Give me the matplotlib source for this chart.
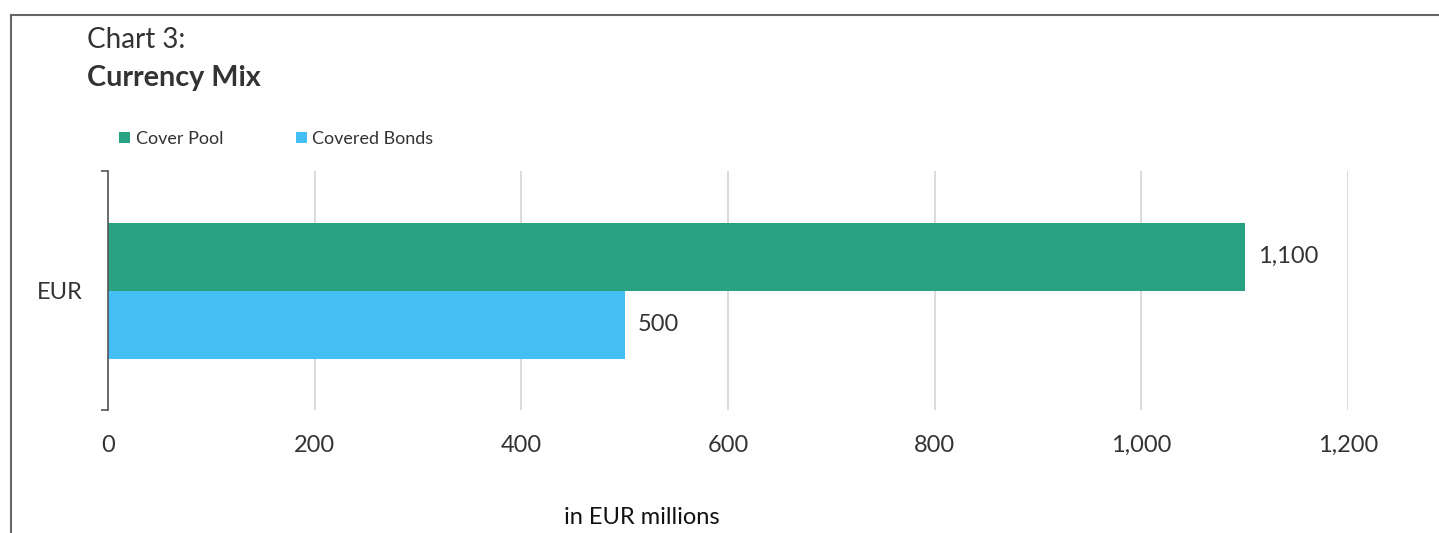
import numpy as np
import matplotlib.pyplot as plt
from matplotlib.lines import Line2D

# data
categories = ["EUR"]
series_names = ["Cover Pool", "Covered Bonds"]
cover_pool = [1100]
covered_bonds = [500]
x_ticks = [0, 200, 400, 600, 800, 1000, 1200]

GREEN = "#28A282"
BLUE = "#45BEF5"
TEXT = "#333333"

plt.rcParams['font.family'] = ['Lato', 'DejaVu Sans']

fig = plt.figure(figsize=(14.39, 5.33), dpi=100)
ax = fig.add_axes([108 / 1439, 1 - 410 / 533, 1240 / 1439, 239 / 533])

y = np.arange(len(categories))
h = 68 / 239
b1 = ax.barh(y + h / 2, cover_pool, height=h, color=GREEN, label=series_names[0], zorder=2)
b2 = ax.barh(y - h / 2, covered_bonds, height=h, color=BLUE, label=series_names[1], zorder=2)

for bars, vals in [(b1, cover_pool), (b2, covered_bonds)]:
    for bar, v in zip(bars, vals):
        ax.text(v + 13, bar.get_y() + bar.get_height() / 2, f"{v:,}",
                va="center", ha="left", fontsize=17, color=TEXT)

ax.set_xlim(0, 1200)
ax.set_ylim(-0.5, 0.5)
ax.set_xticks(x_ticks)
ax.set_xticklabels([f"{t:,}" for t in x_ticks], fontsize=17, color=TEXT)
ax.set_yticks(y)
ax.set_yticklabels(categories, fontsize=17, color=TEXT)
ax.set_yticks([-0.5, 0.5], minor=True)
ax.tick_params(axis="y", which="major", length=0, pad=18)
ax.tick_params(axis="y", which="minor", length=5, width=1.2, color="#555555")
ax.tick_params(axis="x", length=0, pad=18)

ax.grid(axis="x", color="#d4d4d4", linewidth=1.2, zorder=0)
for s in ["top", "right", "bottom"]:
    ax.spines[s].set_visible(False)
ax.spines["left"].set_color("#555555")
ax.spines["left"].set_linewidth(1.2)
ax.spines["left"].set_zorder(3)

# legend
leg = fig.legend(handles=[b1, b2], labels=series_names, loc="center left",
                 bbox_to_anchor=(103 / 1439, 1 - 139 / 533), ncol=2, frameon=False,
                 fontsize=13, handlelength=0.62, handleheight=0.62, handletextpad=0.3,
                 columnspacing=4.0, labelcolor=TEXT)

# titles
fig.text(87 / 1439, 1 - 40 / 533, "Chart 3:", fontsize=20, color=TEXT, va="center")
fig.text(87 / 1439, 1 - 78 / 533, "Currency Mix", fontsize=20.7, fontweight="bold",
         color=TEXT, va="center")
fig.text(642 / 1439, 1 - 518 / 533, "in EUR millions", fontsize=17, color="#111111",
         ha="center", va="center")

# frame around the chart
fig.add_artist(Line2D([11 / 1439, 11 / 1439], [0, 1 - 15 / 533], color="#666666", lw=1.5))
fig.add_artist(Line2D([11 / 1439, 1], [1 - 15 / 533, 1 - 15 / 533], color="#666666", lw=1.5))

fig.savefig("out.png", dpi=100)
